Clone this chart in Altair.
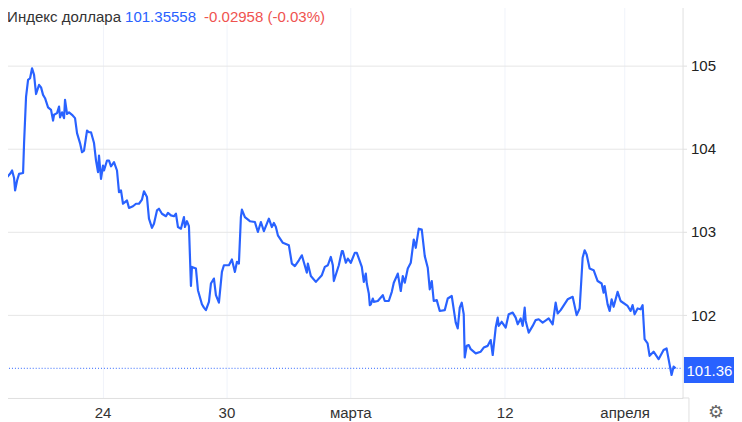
import altair as alt
import pandas as pd

t = [0,2,4,6,7,10,12,14,15,17,19,23,24,26,28,30,32,34,36,39,41,43,45,48,51,53,54,57,59,60,62,64,65,67,69,72,75,77,80,82,84,87,89,91,94,96,98,99,101,103,104,107,109,111,114,117,119,121,123,
125,127,129,133,136,139,142,144,147,149,152,154,157,159,162,166,168,171,174,176,178,181,184,185,187,189,191,192,196,198,202,204,206,209,211,214,216,219,222,224,229,232,235,237,239,241,242,245,250,255,258,261,264,269,272,274,276,278,283,289,292,295,299,302,307,308,311,316,322,325,328,331,333,334,339,342,343,346,348,351,355,357,362,364,366,367,369,370,
371,373,374,378,383,385,389,392,394,398,401,403,405,408,411,414,416,419,422,425,428,430,432,434,437,440,445,448,452,454,456,458,460,462,464,465,467,469,471,476,481,484,488,491,493,496,498,499,502,506,509,513,516,518,521,523,525,526,529,533,536,539,543,549,553,556,558,561,568,573,577,580,583,585,587,590,594,598,602,604,605,608,610,612,614,618,621,628,631,633,635,638,641,643,645,648,650,654,659,664,667,672,674,676]

price = [103.80,103.77,103.60,103.59,103.66,103.70,103.74,103.65,103.50,103.62,103.70,103.71,104.07,104.63,104.83,104.85,104.97,104.89,104.66,104.77,104.74,104.65,104.61,104.50,104.47,104.34,104.41,104.43,104.51,104.38,104.44,104.37,104.59,104.42,104.44,104.41,104.37,104.19,104.07,103.96,103.98,104.22,104.20,104.20,104.07,103.86,103.72,103.92,103.64,103.80,103.74,103.86,103.86,103.79,103.84,103.74,103.48,103.50,103.34,
103.36,103.38,103.29,103.31,103.34,103.34,103.39,103.49,103.42,103.16,103.05,103.10,103.26,103.28,103.22,103.19,103.23,103.20,103.19,103.22,103.06,103.04,103.18,103.06,103.13,103.07,102.35,102.58,102.56,102.30,102.13,102.09,102.06,102.16,102.38,102.44,102.24,102.15,102.52,102.60,102.60,102.67,102.52,102.64,102.62,103.18,103.27,103.18,103.13,103.12,103.00,103.12,103.01,103.16,103.06,103.11,103.06,102.96,102.87,102.84,102.62,102.59,102.66,102.72,102.51,102.62,102.47,102.40,102.48,102.58,102.60,102.70,102.60,102.41,102.60,102.77,102.77,102.63,102.68,102.63,102.75,102.75,102.58,102.40,102.50,102.38,102.26,102.12,
102.13,102.20,102.16,102.17,102.24,102.17,102.17,102.28,102.39,102.50,102.29,102.47,102.39,102.56,102.63,102.91,102.81,103.04,103.03,102.71,102.57,102.31,102.41,102.17,102.18,102.05,102.06,102.20,102.23,102.07,101.91,101.84,102.09,102.15,102.01,101.49,101.63,101.64,101.59,101.54,101.56,101.61,101.63,101.70,101.52,101.85,101.97,101.87,101.92,101.85,102.01,102.03,101.97,101.89,101.96,101.87,102.09,101.93,101.79,101.87,101.94,101.95,101.91,101.96,101.89,102.15,102.02,102.06,102.19,102.22,102.00,102.08,102.69,102.78,102.73,102.56,102.54,102.41,102.38,102.27,102.35,102.13,102.05,102.19,102.10,102.28,102.17,102.11,102.05,102.12,102.01,102.08,102.07,102.12,101.71,101.66,101.51,101.56,101.47,101.58,101.60,101.28,101.38,101.36]

tick_pos = [102.5, 226.5, 350.5, 505, 625]
tick_labels = ["24", "30", "марта", "12", "апреля"]
y_ticks = [102, 103, 104, 105]
last_price = 101.36

BLUE = "#2962ff"
FONT = "Liberation Sans"
SX, SY = 0.9893, 0.99
def P(x): return x / SX
def Q(y): return y / SY
W, H = 690, 402
xs = alt.Scale(domain=[0, 683], nice=False, zero=False)
ys = alt.Scale(domain=[101.003, 105.787], nice=False, zero=False)
label_map = "{" + ",".join(f"'{p}':'{l}'" for p, l in zip(tick_pos, tick_labels)) + "}"
one = pd.DataFrame({"k": [0]})

x_axis = alt.Axis(values=tick_pos, labelExpr=f"{label_map}[datum.value]", title=None,
                  grid=True, gridColor="#f0f3fa", gridWidth=1, ticks=False, domain=True,
                  domainColor="#e0e0e0", labelFont=FONT, labelFontSize=15.2, labelColor="#333333",
                  labelPadding=15, labelBaseline="middle", labelAngle=0)
y_axis = alt.Axis(values=y_ticks, orient="right", title=None, format="d", grid=True,
                  gridColor="#e6e6e6", gridWidth=1, ticks=True, tickSize=4, tickColor="#e0e0e0",
                  domain=True, domainColor="#e0e0e0", labelFont=FONT, labelFontSize=15.2,
                  labelColor="#222222", labelPadding=4)

line = alt.Chart(pd.DataFrame({"t": t, "price": price})).mark_line(
    color=BLUE, strokeWidth=2.2, strokeJoin="round", clip=True
).encode(x=alt.X("t:Q", scale=xs, axis=x_axis), y=alt.Y("price:Q", scale=ys, axis=y_axis))

dotted = alt.Chart(pd.DataFrame({"p": [last_price]})).mark_rule(
    color=BLUE, strokeWidth=1, strokeDash=[1, 2]
).encode(y=alt.Y("p:Q", scale=ys), x=alt.value(0), x2=alt.value(W))

def txt(s, x, y, color, size=15.2, font=FONT, align="left"):
    return alt.Chart(one).mark_text(align=align, baseline="alphabetic", font=font,
                                    fontSize=size, color=color).encode(
        x=alt.value(P(x)), y=alt.value(y), text=alt.value(s))

title_bg = alt.Chart(one).mark_rect(color="white").encode(
    x=alt.value(0), x2=alt.value(P(330)), y=alt.value(0), y2=alt.value(Q(24)))
price_box = alt.Chart(one).mark_rect(color=BLUE).encode(
    x=alt.value(P(684)), x2=alt.value(P(742)), y=alt.value(Q(357)), y2=alt.value(Q(383)))
bottom_ext = alt.Chart(one).mark_rule(color="#e0e0e0").encode(
    x=alt.value(W), x2=alt.value(P(689)), y=alt.value(H))
gear_sep = alt.Chart(one).mark_rule(color="#e0e0e0").encode(
    x=alt.value(P(689)), y=alt.value(H), y2=alt.value(Q(422)))

chart = alt.layer(
    title_bg, line, dotted, bottom_ext, gear_sep, price_box,
    txt("Индекс доллара", 7, 21.5, "#333333"),
    txt("101.35558", 125, 21.5, BLUE),
    txt("-0.02958 (-0.03%)", 204, 21.5, "#ef5350"),
    txt("101.36", 686.5, Q(376), "white"),
    txt("⚙", 716, Q(418), "#666666", size=18, font="DejaVu Sans", align="center"),
).properties(
    width=W, height=H, padding={"left": -8, "top": -10, "right": 52, "bottom": 22},
    autosize=alt.AutoSizeParams(type="none"),
).configure_view(strokeWidth=0)

chart.save("out.html", embed_options={"renderer": "svg", "actions": False})
